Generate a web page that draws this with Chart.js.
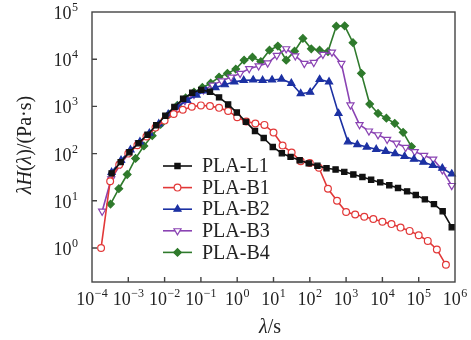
<!DOCTYPE html>
<html><head><meta charset="utf-8">
<script src="https://cdn.jsdelivr.net/npm/chart.js@4.4.0/dist/chart.umd.min.js"></script>
<style>html,body{margin:0;padding:0;background:#fff;}canvas{display:block;}</style>
</head><body>
<canvas id="c" width="471" height="340"></canvas>
<script>
// ---- data (x stored as log10(lambda/s)) ----
const seriesNames = ['PLA-L1', 'PLA-B1', 'PLA-B2', 'PLA-B3', 'PLA-B4'];
const xTickExps = [-4, -3, -2, -1, 0, 1, 2, 3, 4, 5, 6];
const yTickExps = [0, 1, 2, 3, 4, 5];

const lamL1 = [-3.46,-3.21,-2.97,-2.72,-2.47,-2.23,-1.98,-1.73,-1.49,-1.24,-0.99,-0.75,-0.50,-0.25,-0.01,0.24,0.49,0.73,0.98,1.23,1.47,1.72,1.97,2.21,2.46,2.71,2.95,3.20,3.45,3.69,3.94,4.19,4.43,4.68,4.92,5.17,5.42,5.66,5.91];
const valL1 = [38,66,107,166,251,398,631,977,1445,1950,2240,2040,1550,1100,740,470,300,214,138,102,85,72,62,55,49,46,41,36,32,28,24.5,21.4,18.6,15.8,13.2,10.7,8.5,6.0,2.75];

const lamB1 = [-3.75,-3.5,-3.25,-3,-2.75,-2.5,-2.25,-2,-1.75,-1.5,-1.25,-1,-0.75,-0.5,-0.25,0,0.25,0.5,0.75,1,1.25,1.5,1.75,2,2.25,2.5,2.75,3,3.25,3.5,3.75,4,4.25,4.5,4.75,5,5.25,5.5,5.75];
const valB1 = [1.0,26,58,100,150,230,355,500,690,850,980,1050,1020,930,800,590,480,435,405,280,148,105,69,63,50,18,10,5.8,5.1,4.6,4.1,3.6,3.2,2.7,2.3,1.86,1.41,0.93,0.44];

const lamB2 = [-3.46,-3.20,-2.94,-2.68,-2.42,-2.16,-1.90,-1.64,-1.38,-1.12,-0.86,-0.60,-0.34,-0.08,0.18,0.44,0.70,0.96,1.22,1.49,1.75,2.01,2.27,2.53,2.79,3.05,3.31,3.57,3.83,4.09,4.35,4.61,4.87,5.13,5.39,5.65,5.91];
const valB2 = [40,72,120,178,270,427,676,977,1350,1740,2140,2510,2880,3310,3550,3630,3550,3630,3800,3090,1860,2000,3720,3310,708,178,155,138,123,112,100,87,76,66,56,49,37];

const lamB3 = [-3.72,-3.47,-3.21,-2.96,-2.71,-2.45,-2.20,-1.95,-1.69,-1.44,-1.19,-0.93,-0.68,-0.43,-0.17,0.08,0.33,0.59,0.84,1.09,1.35,1.60,1.85,2.11,2.36,2.61,2.87,3.12,3.37,3.63,3.88,4.13,4.39,4.64,4.89,5.15,5.40,5.65,5.91];
const valB3 = [6.0,29,60,107,166,250,400,630,930,1320,1780,2240,2820,3470,4170,5000,6300,7200,8300,12000,16600,11700,8100,8500,12600,14100,8100,1070,410,300,250,200,166,135,110,91,76,45,21];

const lamB4 = [-3.49,-3.26,-3.03,-2.80,-2.57,-2.34,-2.11,-1.88,-1.65,-1.42,-1.19,-0.96,-0.73,-0.50,-0.27,-0.04,0.19,0.42,0.65,0.89,1.12,1.35,1.58,1.81,2.04,2.27,2.50,2.73,2.96,3.19,3.42,3.65,3.88,4.11,4.34,4.57,4.80];
const valB4 = [8.5,18,36,79,145,240,417,676,1050,1510,2000,2510,3090,4170,5010,6170,9550,11000,8900,15500,19000,9550,14800,27500,16600,15500,14500,50000,51000,22400,5010,1120,708,562,437,282,141];

// ---- styles ----
const FONT = '"Liberation Serif", "Times New Roman", serif';
const styles = [
  {color:'#111111', fill:'#111111', pointStyle:'rect', radius:3.7, rotation:0},
  {color:'#e23838', fill:'#ffffff', pointStyle:'circle', radius:3.4, rotation:0},
  {color:'#1c31a3', fill:'#1c31a3', pointStyle:'triangle', radius:4.1, rotation:0},
  {color:'#8a43b3', fill:'#ffffff', pointStyle:'triangle', radius:4.1, rotation:180},
  {color:'#2f7a2c', fill:'#2f7a2c', pointStyle:'rectRot', radius:3.8, rotation:0}
];
const lams = [lamL1, lamB1, lamB2, lamB3, lamB4];
const vals = [valL1, valB1, valB2, valB3, valB4];

const datasets = seriesNames.map((name, i) => ({
  label: name,
  data: lams[i].map((e, j) => ({x: Math.pow(10, e), y: vals[i][j]})),
  showLine: true,
  borderColor: styles[i].color,
  backgroundColor: styles[i].fill,
  borderWidth: 1.6,
  pointStyle: styles[i].pointStyle,
  pointRadius: styles[i].radius,
  pointRotation: styles[i].rotation,
  pointBorderColor: styles[i].color,
  pointBackgroundColor: styles[i].fill,
  pointBorderWidth: 1.2,
  clip: false
}));

function drawPow(ctx, exp, x, baseY, align) {
  const base = '10';
  const sup = exp < 0 ? '\u2212' + (-exp) : String(exp);
  ctx.font = '18px ' + FONT; const wb = ctx.measureText(base).width;
  ctx.font = '12px ' + FONT; const ws = ctx.measureText(sup).width;
  const total = wb + 0.5 + ws;
  const x0 = align === 'center' ? x - total / 2 : x - total;
  ctx.textAlign = 'left'; ctx.textBaseline = 'alphabetic';
  ctx.font = '18px ' + FONT; ctx.fillText(base, x0, baseY);
  ctx.font = '12px ' + FONT; ctx.fillText(sup, x0 + wb + 0.5, baseY - 8);
}

function drawRich(ctx, parts, size) {
  let total = 0;
  parts.forEach(p => { ctx.font = (p[1] ? 'italic ' : '') + size + 'px ' + FONT; total += ctx.measureText(p[0]).width; });
  let x = -total / 2;
  parts.forEach(p => { ctx.font = (p[1] ? 'italic ' : '') + size + 'px ' + FONT; ctx.fillText(p[0], x, 0); x += ctx.measureText(p[0]).width; });
}

const decor = {
  id: 'decor',
  afterDatasetsDraw(chart) {
    const {ctx, chartArea: a, scales: {x, y}} = chart;
    ctx.save();
    ctx.strokeStyle = '#444'; ctx.lineWidth = 1.4;
    ctx.strokeRect(a.left, a.top, a.right - a.left, a.bottom - a.top);
    ctx.beginPath();
    xTickExps.forEach(e => {
      const px = x.getPixelForValue(Math.pow(10, e));
      if (px > a.left + 2 && px < a.right - 2) { ctx.moveTo(px, a.bottom); ctx.lineTo(px, a.bottom - 5); }
    });
    yTickExps.forEach(e => {
      const py = y.getPixelForValue(Math.pow(10, e));
      if (py > a.top + 2 && py < a.bottom - 2) { ctx.moveTo(a.left, py); ctx.lineTo(a.left + 5, py); }
    });
    ctx.stroke();

    ctx.fillStyle = '#222';
    xTickExps.forEach(e => drawPow(ctx, e, x.getPixelForValue(Math.pow(10, e)), a.bottom + 23, 'center'));
    yTickExps.forEach(e => drawPow(ctx, e, a.left - 14, y.getPixelForValue(Math.pow(10, e)) + 7, 'right'));

    // axis titles
    ctx.textBaseline = 'middle'; ctx.textAlign = 'left';
    ctx.save(); ctx.translate(270, 328);
    drawRich(ctx, [['\u03bb', true], ['/s', false]], 20);
    ctx.restore();
    ctx.save(); ctx.translate(26, 145); ctx.rotate(-Math.PI / 2);
    drawRich(ctx, [['\u03bb', true], ['H', true], ['(', false], ['\u03bb', true], [')/(Pa\u00b7s)', false]], 20);
    ctx.restore();

    // legend
    chart.data.datasets.forEach((ds, i) => {
      const yy = 166 + 21.6 * i;
      ctx.strokeStyle = ds.borderColor; ctx.lineWidth = 1.6;
      ctx.beginPath(); ctx.moveTo(163, yy); ctx.lineTo(192, yy); ctx.stroke();
      ctx.fillStyle = ds.pointBackgroundColor; ctx.strokeStyle = ds.pointBorderColor; ctx.lineWidth = ds.pointBorderWidth;
      Chart.helpers.drawPoint(ctx, {pointStyle: ds.pointStyle, rotation: ds.pointRotation, radius: ds.pointRadius, borderWidth: ds.pointBorderWidth}, 177.5, yy);
      ctx.fillStyle = '#222'; ctx.font = '20px ' + FONT; ctx.textBaseline = 'middle'; ctx.textAlign = 'left';
      ctx.fillText(ds.label, 202, yy + 1);
    });
    ctx.restore();
  }
};

new Chart(document.getElementById('c'), {
  type: 'scatter',
  data: {datasets},
  options: {
    responsive: false, animation: false, devicePixelRatio: 1,
    layout: {padding: {left: 92, right: 16, top: 12, bottom: 58}},
    plugins: {legend: {display: false}, tooltip: {enabled: false}},
    scales: {
      x: {type: 'logarithmic', min: 1e-4, max: 1e6, display: false},
      y: {type: 'logarithmic', min: 0.19, max: 1e5, display: false}
    }
  },
  plugins: [decor]
});
</script>
</body></html>
